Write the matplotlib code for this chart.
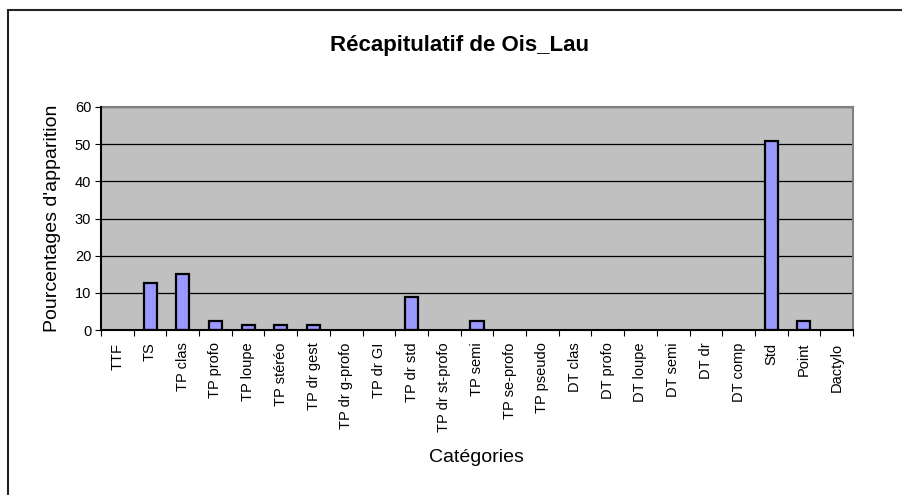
import numpy as np
import matplotlib.pyplot as plt
from matplotlib.patches import Rectangle

plt.rcParams['font.family'] = ['Liberation Sans', 'DejaVu Sans']

categories = ['TTF', 'TS', 'TP clas', 'TP profo', 'TP loupe', 'TP stéréo',
              'TP dr gest', 'TP dr g-profo', 'TP dr GI', 'TP dr std',
              'TP dr st-profo', 'TP semi', 'TP se-profo', 'TP pseudo',
              'DT clas', 'DT profo', 'DT loupe', 'DT semi', 'DT dr',
              'DT comp', 'Std', 'Point', 'Dactylo']
pourcentages = [0, 12.7, 15.2, 2.5, 1.3, 1.3, 1.3, 0, 0, 8.9, 0, 2.5, 0, 0,
                0, 0, 0, 0, 0, 0, 50.9, 2.5, 0]
yticks = [0, 10, 20, 30, 40, 50, 60]

fig = plt.figure(figsize=(9.03, 4.95), dpi=100)
# cadre du graphique
fig.patches.append(Rectangle((8 / 903, -0.1), 1.2, 1 - 10 / 495 + 0.1,
                             transform=fig.transFigure, fill=False,
                             edgecolor='#222222', linewidth=1.5))

ax = fig.add_axes([101 / 903, 1 - 330 / 495, 752 / 903, 223 / 495])
ax.set_facecolor('#C0C0C0')

x = np.arange(len(categories))
# pas de contour pour les catégories vides
contours = ['black' if v > 0 else 'none' for v in pourcentages]
ax.bar(x, pourcentages, width=0.4, color='#9999FF', edgecolor=contours,
       linewidth=1.6, zorder=3)

ax.set_xlim(-0.5, len(categories) - 0.5)
ax.set_ylim(0, 60)
ax.set_yticks(yticks)
ax.yaxis.grid(True, color='black', linewidth=0.9)
ax.set_axisbelow(True)

# graduations entre les catégories, étiquettes centrées
ax.set_xticks(np.arange(len(categories) + 1) - 0.5)
ax.set_xticklabels([])
ax.set_xticks(x, minor=True)
ax.set_xticklabels(categories, minor=True, rotation=90, fontsize=10.5)
ax.tick_params(axis='x', which='minor', length=0, pad=9)
ax.tick_params(axis='x', which='major', length=4, color='black')
ax.tick_params(axis='y', length=4, labelsize=10.5, pad=3)

for side in ['top', 'right']:
    ax.spines[side].set_color('#808080')
    ax.spines[side].set_linewidth(1.5)
for side in ['left', 'bottom']:
    ax.spines[side].set_color('black')
    ax.spines[side].set_linewidth(1.5)
    ax.spines[side].set_zorder(4)

ax.set_ylabel("Pourcentages d'apparition", fontsize=14, labelpad=10)
fig.text(476 / 903, 1 - 457 / 495, 'Catégories', ha='center', va='center',
         fontsize=14)
fig.text(460 / 903, 1 - 45 / 495, 'Récapitulatif de Ois_Lau', ha='center',
         va='center', fontsize=16, fontweight='bold')

fig.savefig('out.png', dpi=100)
